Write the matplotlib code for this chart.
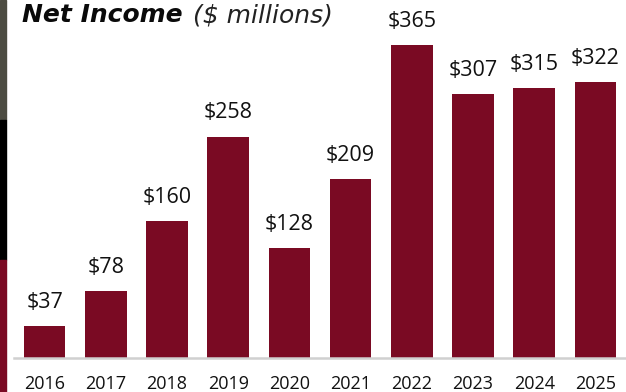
import matplotlib.pyplot as plt
from matplotlib.patches import Rectangle

years = ["2016", "2017", "2018", "2019", "2020", "2021", "2022", "2023", "2024", "2025"]
net_income = [37, 78, 160, 258, 128, 209, 365, 307, 315, 322]

BAR = "#7a0a23"
FONT = ["Open Sans", "DejaVu Sans"]

W, H = 626, 392
fig = plt.figure(figsize=(W / 100, H / 100), dpi=100)

# slide edge strip on the left: photo, black band, maroon band (pixel rows from top)
strip = [(0, 120, "#4d4c42"), (120, 260, "#000000"), (260, 392, BAR)]
for top, bottom, c in strip:
    fig.patches.append(Rectangle((0, 1 - bottom / H), 6 / W, (bottom - top) / H,
                                 transform=fig.transFigure, color=c, zorder=0))

ax = fig.add_axes([14 / W, (H - 358) / H, (626 - 14) / W, 358 / H])
x = range(len(years))
ax.bar(x, net_income, width=0.68, color=BAR, zorder=2)
ax.set_xlim(-0.5, len(years) - 0.5)
ax.set_ylim(0, 417)

for xi, v in zip(x, net_income):
    ax.annotate(f"${v}", (xi, v), xytext=(0, 13), textcoords="offset points",
                ha="center", va="baseline", fontsize=15.5, family=FONT,
                color="#111111")

ax.set_xticks(list(x))
ax.set_xticklabels(years, family=FONT, fontsize=13, color="#111111")
ax.tick_params(axis="x", length=0, pad=12.5)
ax.set_yticks([])
for s in ["top", "right", "left"]:
    ax.spines[s].set_visible(False)
ax.spines["bottom"].set_color("#d0d0d0")
ax.spines["bottom"].set_linewidth(1.8)

# title: bold italic lead followed by light italic unit note
t1 = fig.text(22 / W, 1 - 22 / H, "Net Income", fontsize=18, fontweight="bold",
              style="italic", family="DejaVu Sans", va="baseline", ha="left",
              color="#0a0a0a")
renderer = fig.canvas.get_renderer()
x_end = t1.get_window_extent(renderer).x1
fig.text((x_end + 10) / W, 1 - 22 / H, "($ millions)", fontsize=18,
         style="italic", family="DejaVu Sans", va="baseline", ha="left",
         color="#222222")

fig.savefig("out.png", dpi=100)
